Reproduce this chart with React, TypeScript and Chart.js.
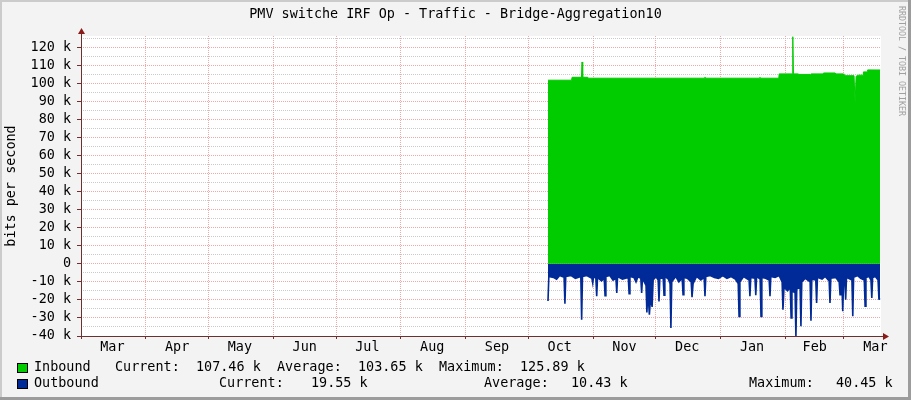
import { useEffect, useRef } from 'react';
import { Chart, registerables } from 'chart.js';

Chart.register(...registerables);

// x axis is linear, in days counted from 1 March
const monthStarts = [0, 31, 61, 92, 122, 153, 184, 214, 245, 275, 306, 337, 365];
const monthLabelDays = [15, 46, 76, 107, 137, 168, 199, 229, 260, 290, 321, 351, 380];
const monthLabels = ['Mar', 'Apr', 'May', 'Jun', 'Jul', 'Aug', 'Sep', 'Oct', 'Nov', 'Dec', 'Jan', 'Feb', 'Mar'];
const xMax = 382.7;
const yMin = -40;
const yMax = 126.3;

// inbound traffic, k bits per second
const inDays = [
  223.4, 234.7, 234.9, 239.4, 239.7, 240.0, 242.4, 242.6, 298.3, 298.5, 298.7, 324.6, 324.8, 325.0,
  333.8, 334.0, 340.2, 340.5, 340.8, 343.0, 343.3, 349.0, 349.3, 355.0, 355.2, 360.7, 360.9, 364.7,
  365.0, 369.8, 370.3, 370.8, 372.0, 374.1, 374.3, 376.1, 376.3, 382.3,
];
const inValues = [
  101.8, 101.8, 103.4, 103.4, 111.9, 103.4, 103.4, 102.9, 102.9, 103.5, 102.9, 102.9, 103.4, 102.9,
  102.9, 105.3, 105.3, 125.89, 105.3, 105.3, 105.0, 105.0, 105.3, 105.3, 105.8, 105.8, 105.3, 105.3,
  104.3, 104.3, 88.9, 104.0, 104.6, 104.6, 106.4, 106.4, 107.5, 107.46,
];

// outbound traffic, drawn below zero
const outDays = [
  223.4, 223.8, 226.0, 227.5, 229.0, 231.1, 231.5, 231.9, 234.5, 236.5, 239.1, 239.5, 239.9, 242.0,
  244.4, 244.8, 245.2, 246.3, 246.7, 247.1, 249.0, 250.3, 250.7, 251.1, 253.0, 254.5, 255.9, 256.3,
  256.7, 259.0, 261.8, 262.2, 262.6, 264.5, 265.5, 266.5, 267.8, 268.2, 268.6, 270.3, 270.7, 271.2,
  271.9, 272.5, 273.2, 273.7, 275.0, 276.1, 276.5, 276.9, 278.5, 278.9, 279.3, 281.0, 281.8, 282.2,
  282.6, 284.5, 286.0, 287.6, 288.0, 288.4, 290.0, 291.9, 292.3, 292.8, 294.5, 296.5, 298.1, 298.5,
  298.9, 301.0, 303.0, 305.0, 307.0, 309.0, 311.0, 313.0, 314.4, 314.8, 315.2, 317.0, 319.6, 320.0,
  320.4, 322.4, 322.8, 323.2, 324.9, 325.3, 325.7, 327.5, 329.2, 329.6, 330.0, 332.0, 334.0, 335.4,
  335.8, 336.3, 338.0, 339.3, 339.7, 340.1, 341.6, 342.0, 342.4, 344.0, 344.4, 344.8, 346.5, 348.8,
  349.2, 349.6, 351.5, 351.9, 352.3, 354.5, 356.0, 357.9, 358.3, 358.7, 361.0, 362.7, 363.1, 363.5,
  364.0, 364.4, 364.8, 365.4, 365.8, 366.2, 368.8, 369.2, 369.6, 371.5, 373.0, 374.7, 375.1, 375.5,
  377.0, 377.9, 378.3, 378.7, 380.0, 381.3, 381.7, 382.3,
];
const outValues = [
  -20.6, -7, -7.5, -8.5, -6.5, -7.5, -22.1, -7, -6.5, -8, -7, -31, -7, -6.5,
  -8, -10.6, -7, -8, -18, -7.5, -9.5, -8, -17.7, -7, -6.5, -9, -8, -16.2,
  -7, -8.5, -7.5, -16.6, -7, -7.5, -10, -7, -8, -16.2, -8, -12, -27, -15,
  -28.2, -18, -23.9, -9, -7, -9, -20.8, -8, -8, -17.4, -7, -8.5, -11, -35.5,
  -10, -7, -10, -8, -17.1, -7.5, -8, -10, -18.5, -11, -7, -9, -7.5, -18,
  -7, -6.5, -7.5, -8, -6.5, -8, -7, -8.5, -11, -29.1, -10, -7, -9, -18,
  -7.5, -8, -17.4, -7, -8.5, -29.1, -7.5, -8, -9, -18, -7, -7.5, -6.5, -10,
  -25.4, -13, -15, -13, -30, -15, -16, -40.45, -14, -13, -34.6, -10, -8, -10,
  -31.5, -8.5, -9, -21.7, -7.5, -8.5, -7, -9.5, -21.7, -8, -7.5, -10, -17.1, -10,
  -11, -26.3, -10, -9, -19.9, -7.5, -9, -29.1, -7.5, -6.5, -8, -9, -23.5, -7.5,
  -7, -9, -18.9, -7.5, -7, -9, -19.5, -19.55,
];

const inboundStats = ['107.46 k', '103.65 k', '125.89 k'];
const outboundStats = ['19.55 k', '10.43 k', '40.45 k'];

const MONO = '"DejaVu Sans Mono", monospace';
const GREEN = '#00cc00';
const BLUE = '#002a97';
const MAJOR = 'rgba(240, 130, 130, 0.7)';
const MINOR = 'rgba(180, 180, 180, 0.7)';

const rrdPlugin = {
  id: 'rrdFrame',
  beforeDraw(chart: Chart) {
    const { ctx, width, height, chartArea: a } = chart;
    ctx.save();
    ctx.fillStyle = '#f3f3f3';
    ctx.fillRect(0, 0, width, height);
    ctx.fillStyle = '#cbcbcb';
    ctx.fillRect(0, 0, width, 2);
    ctx.fillRect(0, 0, 2, height);
    ctx.fillStyle = '#9c9c9c';
    ctx.fillRect(width - 3, 0, 3, height);
    ctx.fillRect(0, height - 3, width, 3);
    ctx.fillStyle = '#ffffff';
    ctx.fillRect(a.left, a.top, a.right - a.left, a.bottom - a.top);
    ctx.restore();
  },
  afterDraw(chart: Chart) {
    const { ctx, width, chartArea: a } = chart;
    ctx.save();

    // title
    ctx.fillStyle = '#000';
    ctx.font = `13.45px ${MONO}`;
    ctx.textAlign = 'center';
    ctx.textBaseline = 'middle';
    ctx.fillText('PMV switche IRF Op - Traffic - Bridge-Aggregation10', width / 2, 15);

    // watermark
    ctx.save();
    ctx.translate(901.5, 6);
    ctx.rotate(Math.PI / 2);
    ctx.font = `8.3px ${MONO}`;
    ctx.fillStyle = '#a0a0a0';
    ctx.textAlign = 'left';
    ctx.fillText('RRDTOOL / TOBI OETIKER', 0, 0);
    ctx.restore();

    // axes with arrows
    const ax = a.left + 0.5;
    const ay = a.bottom + 0.5;
    ctx.strokeStyle = '#6b3030';
    ctx.lineWidth = 1;
    ctx.beginPath();
    ctx.moveTo(ax, a.bottom + 3);
    ctx.lineTo(ax, a.top - 4);
    ctx.moveTo(a.left - 4, ay);
    ctx.lineTo(a.right + 4, ay);
    ctx.stroke();
    ctx.fillStyle = '#8b1a1a';
    ctx.beginPath();
    ctx.moveTo(ax - 3.5, a.top - 2);
    ctx.lineTo(ax, a.top - 8);
    ctx.lineTo(ax + 3.5, a.top - 2);
    ctx.closePath();
    ctx.fill();
    ctx.beginPath();
    ctx.moveTo(a.right + 2, ay - 3.5);
    ctx.lineTo(a.right + 8, ay);
    ctx.lineTo(a.right + 2, ay + 3.5);
    ctx.closePath();
    ctx.fill();

    // legend
    ctx.font = `13.45px ${MONO}`;
    ctx.textAlign = 'left';
    ctx.textBaseline = 'middle';
    const swatch = (y: number, color: string) => {
      ctx.fillStyle = color;
      ctx.fillRect(17, y, 10, 9);
      ctx.strokeStyle = '#000';
      ctx.strokeRect(17.5, y + 0.5, 10, 9);
    };
    swatch(363, GREEN);
    swatch(379, BLUE);
    ctx.fillStyle = '#000';
    const row1: [string, number][] = [
      ['Inbound', 34], ['Current:', 115], [inboundStats[0], 196], ['Average:', 277],
      [inboundStats[1], 358], ['Maximum:', 439], [inboundStats[2], 520],
    ];
    const row2: [string, number][] = [
      ['Outbound', 34], ['Current:', 219], [outboundStats[0], 311], ['Average:', 484],
      [outboundStats[1], 571], ['Maximum:', 749], [outboundStats[2], 836],
    ];
    row1.forEach(([t, x]) => ctx.fillText(t, x, 368));
    row2.forEach(([t, x]) => ctx.fillText(t, x, 384));

    ctx.restore();
  },
};

export default function App() {
  const canvasRef = useRef<HTMLCanvasElement>(null);

  useEffect(() => {
    if (!canvasRef.current) return;
    const ctx = canvasRef.current.getContext('2d');
    if (!ctx) return;

    const chart = new Chart(ctx, {
      type: 'line',
      data: {
        datasets: [
          {
            label: 'Inbound',
            data: inDays.map((x, i) => ({ x, y: inValues[i] })),
            fill: 'origin',
            backgroundColor: GREEN,
            borderColor: GREEN,
            borderWidth: 1,
            pointRadius: 0,
            tension: 0,
          },
          {
            label: 'Outbound',
            data: outDays.map((x, i) => ({ x, y: outValues[i] })),
            fill: 'origin',
            backgroundColor: BLUE,
            borderColor: BLUE,
            borderWidth: 1.6,
            pointRadius: 0,
            tension: 0,
          },
        ],
      },
      options: {
        animation: false,
        responsive: false,
        events: [],
        layout: { padding: { left: 0, top: 36, right: 30, bottom: 0 } },
        plugins: {
          legend: { display: false },
          title: { display: false },
          tooltip: { enabled: false },
        },
        scales: {
          x: {
            type: 'linear',
            min: 0,
            max: xMax,
            z: 1,
            afterFit: (s: any) => { s.height = 64; },
            afterBuildTicks: (s: any) => {
              s.ticks = [...monthStarts, ...monthLabelDays].sort((p, q) => p - q).map((value) => ({ value }));
            },
            ticks: {
              autoSkip: false,
              maxRotation: 0,
              minRotation: 0,
              padding: 0,
              color: '#000',
              font: { family: MONO, size: 13.45 },
              callback: (v: any) => {
                const i = monthLabelDays.indexOf(Number(v));
                return i >= 0 ? monthLabels[i] : '';
              },
            },
            grid: {
              color: (c: any) => (monthStarts.includes(c.tick?.value) ? MAJOR : 'transparent'),
              tickColor: (c: any) => (monthStarts.includes(c.tick?.value) ? '#6b3030' : 'transparent'),
              tickLength: 3,
            },
            border: { display: false, dash: [1, 1] },
          },
          y: {
            type: 'linear',
            min: yMin,
            max: yMax,
            z: 1,
            afterFit: (s: any) => { s.width = 81; },
            ticks: {
              stepSize: 5,
              autoSkip: false,
              includeBounds: false,
              padding: 6,
              color: '#000',
              font: { family: MONO, size: 13.45 },
              callback: (v: any) => {
                const n = Math.round(Number(v));
                if (n % 10 !== 0) return '';
                return n === 0 ? '0' : `${n} k`;
              },
            },
            grid: {
              color: (c: any) => (Math.round(c.tick?.value) % 10 === 0 ? MAJOR : MINOR),
              tickColor: (c: any) => (Math.round(c.tick?.value) % 10 === 0 ? '#6b3030' : 'transparent'),
              tickLength: 4,
            },
            border: { display: false, dash: [1, 1] },
            title: {
              display: true,
              text: 'bits per second',
              color: '#000',
              font: { family: MONO, size: 13.45 },
              padding: { top: 3, bottom: 0 },
            },
          },
        },
      },
      plugins: [rrdPlugin],
    });

    return () => {
      chart.destroy();
    };
  }, []);

  return (
    <div style={{ position: 'absolute', left: 0, top: 0, width: 911, height: 400 }}>
      <canvas ref={canvasRef} width={911} height={400} />
    </div>
  );
}
